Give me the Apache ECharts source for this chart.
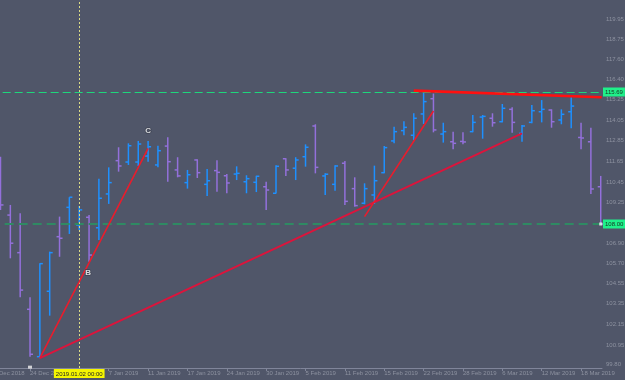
<!DOCTYPE html>
<html><head><meta charset="utf-8">
<script src="https://cdn.jsdelivr.net/npm/echarts@6/dist/echarts.min.js"></script>
<style>html,body{margin:0;padding:0;background:#505669;}#c{width:625px;height:380px;}</style>
</head><body><div id="c"></div>
<script>
// ---- data ----
const dates = ['18 Dec 2018','19 Dec 2018','20 Dec 2018','21 Dec 2018','24 Dec 2018','26 Dec 2018','27 Dec 2018','28 Dec 2018','31 Dec 2018',
 '2 Jan 2019','3 Jan 2019','4 Jan 2019','7 Jan 2019','8 Jan 2019','9 Jan 2019','10 Jan 2019','11 Jan 2019','14 Jan 2019','15 Jan 2019','16 Jan 2019','17 Jan 2019','18 Jan 2019','22 Jan 2019','23 Jan 2019','24 Jan 2019','25 Jan 2019','28 Jan 2019','29 Jan 2019','30 Jan 2019','31 Jan 2019',
 '1 Feb 2019','4 Feb 2019','5 Feb 2019','6 Feb 2019','7 Feb 2019','8 Feb 2019','11 Feb 2019','12 Feb 2019','13 Feb 2019','14 Feb 2019','15 Feb 2019','19 Feb 2019','20 Feb 2019','21 Feb 2019','22 Feb 2019','25 Feb 2019','26 Feb 2019','27 Feb 2019','28 Feb 2019',
 '1 Mar 2019','4 Mar 2019','5 Mar 2019','6 Mar 2019','7 Mar 2019','8 Mar 2019','11 Mar 2019','12 Mar 2019','13 Mar 2019','14 Mar 2019','15 Mar 2019','18 Mar 2019','19 Mar 2019','20 Mar 2019'];
const opens  = [null,111.73,108.52,106.33,103.03,100.27,104.08,107.26,108.97,107.94,108.39,107.78,109.75,111.69,111.61,111.61,111.96,111.44,112.54,111.15,110.41,111.73,110.31,111.11,110.81,110.91,110.46,110.43,110.17,109.79,111.80,111.25,111.92,113.71,110.80,110.31,111.54,110.06,109.21,109.69,110.99,112.84,113.44,113.17,114.41,115.30,113.24,112.79,112.81,113.38,114.23,114.16,113.96,114.68,113.28,113.92,114.54,114.64,114.06,114.54,113.04,112.79,110.17];
const highs  = [null,111.92,109.11,108.62,103.73,105.71,106.39,108.43,109.56,109.05,108.52,110.64,111.30,112.47,112.70,112.84,112.84,112.56,113.05,111.89,111.15,111.77,111.20,111.71,110.91,111.36,110.84,110.81,110.46,111.42,111.83,111.89,112.64,113.81,110.95,111.42,111.67,110.72,110.37,111.40,112.54,113.67,113.98,114.45,115.65,115.60,113.90,113.38,113.34,114.35,114.35,114.45,114.99,114.80,113.77,114.93,115.22,114.68,114.68,115.38,113.90,113.61,110.80];
const lows   = [null,108.82,106.00,103.73,100.27,100.18,102.66,106.09,107.42,107.65,105.80,107.07,109.17,111.05,111.44,111.38,111.63,111.30,110.46,110.72,110.06,110.68,109.63,109.88,109.79,110.56,109.79,109.86,108.82,109.77,110.80,110.56,111.34,110.95,109.69,109.94,109.11,109.01,109.15,109.17,110.95,112.70,113.17,112.89,113.83,113.34,112.74,112.35,112.64,113.34,112.97,113.67,113.92,113.32,112.79,113.87,113.92,113.61,113.81,113.58,112.35,109.75,107.97];
const closes = [null,109.11,106.88,104.15,100.41,105.69,106.33,107.17,109.56,108.82,106.19,109.50,110.41,111.38,112.56,112.66,112.50,112.27,111.63,110.80,110.87,110.99,110.52,111.01,110.39,110.95,110.64,110.78,109.98,111.36,111.15,111.73,112.47,111.30,110.90,111.38,109.32,109.07,110.06,110.52,112.45,113.38,113.63,114.16,115.13,113.48,113.38,112.70,112.78,113.92,114.27,113.90,114.74,113.92,113.71,114.60,114.68,113.96,114.39,114.87,113.01,110.04,108.00];
const xLabelIndexes = [0,4,8,12,16,20,24,28,32,36,40,44,48,52,56,60];
const yTickLabels = [99.80,100.95,102.15,103.35,104.55,105.70,106.90,109.25,110.45,111.65,112.85,114.05,115.25,116.40,117.60,118.75,119.95];
const resistanceLevel = 115.69;
const supportLevel = 108.00;
const crosshairIndex = 9;
const crosshairLabel = '2019.01.02 00:00';
const trendLine1 = [[5,100.18],[16,112.41]];
const trendLine2 = [[5,100.18],[54,113.28]];
const trendLine3 = [[38,108.43],[45,114.58]];
const trendLine4 = [[43,115.77],[62.1,115.38]];
const pointNames = ['B','C'];
const pointCoords = [[9.9,105.15],[16.0,113.42]];
const pointAMarker = [4, 99.66];

// ---- chart ----
const UP = '#1e90ff', DOWN = '#9370db';
const AXIS = '#80859a', TXT = '#8d92a0';
const FONT = 'Liberation Sans';
const bars = [];
for (let i = 0; i < dates.length; i++) {
  if (opens[i] == null) continue;
  bars.push([i, opens[i], highs[i], lows[i], closes[i]]);
}
const last = dates.length - 1;

const chart = echarts.init(document.getElementById('c'), null, {renderer: 'canvas'});
function lineSeries(data, color, width) {
  return {type: 'line', data: data, symbol: 'none', silent: true, z: 5,
    lineStyle: {color: color, width: width}, animation: false};
}
chart.setOption({
  backgroundColor: '#505669',
  animation: false,
  grid: {left: -9.34, right: 23, top: 0, bottom: 12, containLabel: false, outerBoundsMode: 'none'},
  xAxis: {
    type: 'value', min: 0, max: 62.13,
    axisLine: {show: true, lineStyle: {color: AXIS, width: 1}},
    axisTick: {show: true, length: 3, customValues: xLabelIndexes, lineStyle: {color: AXIS}},
    axisLabel: {show: true, customValues: xLabelIndexes, formatter: v => dates[Math.round(v)] || '',
      align: 'left', margin: 2, fontSize: 6, color: TXT, fontFamily: FONT},
    splitLine: {show: false}
  },
  yAxis: {
    type: 'value', position: 'right', min: 99.61, max: 121.05, scale: true,
    axisLine: {show: true, lineStyle: {color: AXIS, width: 1}},
    axisTick: {show: true, length: 3, customValues: yTickLabels, lineStyle: {color: AXIS}},
    axisLabel: {show: true, customValues: yTickLabels, formatter: v => v.toFixed(2),
      margin: 4, fontSize: 6, color: TXT, fontFamily: FONT},
    splitLine: {show: false}
  },
  series: [
    {
      type: 'line', data: [], symbol: 'none', z: 1,
      markLine: {
        silent: true, symbol: ['none', 'none'], animation: false,
        data: [
          {yAxis: resistanceLevel, lineStyle: {color: '#1ed67c', width: 1.2, type: [8, 4]},
            label: {show: true, position: 'end', distance: 1, formatter: p => p.value.toFixed(2),
              backgroundColor: '#1ff08a', color: '#173322', fontSize: 6, fontFamily: FONT, padding: [2, 2, 1, 2]}},
          {yAxis: supportLevel, lineStyle: {color: '#2f8a63', width: 2, type: [9, 5]},
            label: {show: true, position: 'end', distance: 1, formatter: p => p.value.toFixed(2),
              backgroundColor: '#1ff08a', color: '#173322', fontSize: 6, fontFamily: FONT, padding: [2, 2, 1, 2]}},
          {xAxis: crosshairIndex, lineStyle: {color: '#dcdc86', width: 1, type: [2, 2]},
            label: {show: true, position: 'start', distance: 1, formatter: () => crosshairLabel,
              backgroundColor: '#f5f500', color: '#222', fontSize: 6, fontFamily: FONT, padding: [2, 2, 1, 2]}}
        ]
      }
    },
    {
      type: 'custom', data: bars, z: 3, encode: {x: 0, y: [1, 2, 3, 4]},
      renderItem: function (params, api) {
        const x = api.value(0), o = api.value(1), h = api.value(2), l = api.value(3), c = api.value(4);
        const pH = api.coord([x, h]), pL = api.coord([x, l]);
        const pO = api.coord([x, o]), pC = api.coord([x, c]);
        const cx = pH[0];
        const st = {stroke: c >= o ? UP : DOWN, lineWidth: 1.5};
        return {type: 'group', children: [
          {type: 'line', shape: {x1: cx, y1: pH[1], x2: cx, y2: pL[1]}, style: st},
          {type: 'line', shape: {x1: cx - 3, y1: pO[1], x2: cx, y2: pO[1]}, style: st},
          {type: 'line', shape: {x1: cx, y1: pC[1], x2: cx + 3, y2: pC[1]}, style: st}
        ]};
      }
    },
    lineSeries(trendLine1, '#ea1c2c', 1.6),
    lineSeries(trendLine2, '#dc143c', 2),
    lineSeries(trendLine3, '#ea1c2c', 1.6),
    lineSeries(trendLine4, '#ff1010', 2.6),
    {
      type: 'scatter', z: 6, symbolSize: 0, silent: true,
      data: pointNames.map((n, k) => ({name: n, value: pointCoords[k]})),
      label: {show: true, position: 'inside', formatter: '{b}', color: '#ffffff', fontSize: 8, fontWeight: 'bold',
        fontFamily: FONT, textBorderColor: '#3a3f4e', textBorderWidth: 1.5}
    },
    {
      type: 'scatter', z: 6, silent: true, symbol: 'rect', symbolSize: [4, 3],
      itemStyle: {color: '#f0f0f0'},
      data: [pointAMarker]
    },
    {
      type: 'scatter', z: 6, silent: true, symbol: 'rect', symbolSize: 3,
      itemStyle: {color: '#ffffff'},
      data: [[last, closes[last]]]
    }
  ]
});
</script>
</body></html>
